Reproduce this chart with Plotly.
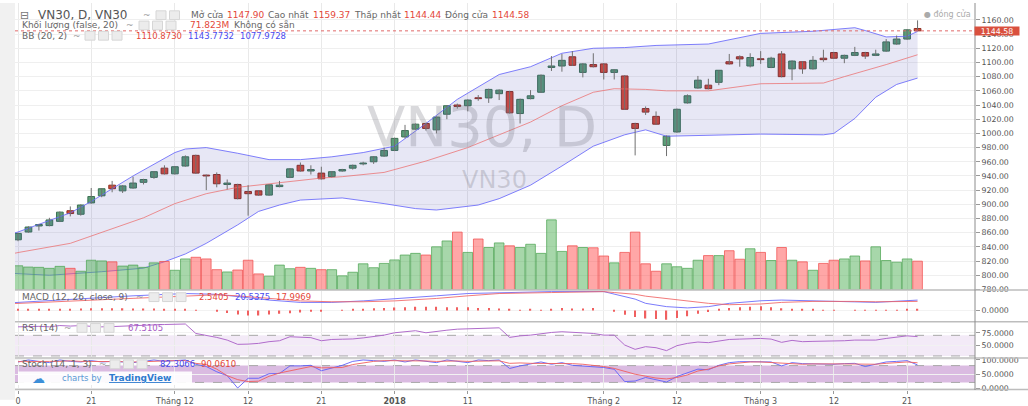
import plotly.graph_objects as go

# ---------------- data ----------------
n_candles = 87
candle_idx = list(range(n_candles))

open_ = [850, 861, 869.5, 870, 876, 891, 886, 902, 912, 927, 919, 923, 931, 938, 951, 943, 954, 969, 941, 942,
         928, 928, 918, 919, 913, 925, 938, 955, 947, 944, 939, 947, 951, 957, 960, 968, 976, 995, 1006, 1014,
         1005, 1027, 1040, 1039, 1050, 1050, 1056, 1059, 1028, 1049, 1058, 1093, 1095, 1108, 1086, 1097, 1098, 1086, 1081, 1014,
         1035, 1024, 983, 1002, 1043, 1064, 1068, 1072, 1101, 1108, 1095, 1105, 1093, 1112, 1091, 1101, 1091, 1106, 1114, 1106,
         1110, 1114, 1110, 1116, 1126, 1133, 1147.90]
high = [860, 869, 872.5, 881, 890, 897, 900, 923, 923, 933, 927, 939, 936, 947, 955, 954, 969, 970, 942, 945,
        935, 929, 927, 920, 928, 933, 951, 959, 955, 953, 947, 950, 956, 960, 968, 980, 994, 1012, 1014, 1015,
        1024, 1040, 1042, 1048, 1054, 1063, 1062, 1060, 1049, 1061, 1083, 1109, 1112, 1116, 1099, 1113, 1099, 1090.5, 1082, 1015,
        1038, 1031, 997, 1035, 1055, 1081, 1077, 1089, 1112, 1110, 1113, 1116, 1108, 1116, 1103, 1102, 1109, 1118, 1115, 1111,
        1122, 1115, 1118, 1133, 1138, 1147, 1159.37]
low = [848, 860, 863, 869, 875, 883, 884, 901, 910, 917, 916, 922, 928, 936, 942, 942, 953, 943, 920, 924,
       921, 907, 884, 912, 912, 924, 937, 946, 942, 935, 938, 946, 949, 955, 957, 967, 975, 993, 1005, 1004,
       1000, 1020, 1035, 1031, 1046, 1043, 1047, 1028, 1014, 1048, 1057, 1088, 1087, 1095, 1079, 1093, 1076, 1076, 1033, 969,
       1026, 1012, 968, 1001, 1042, 1063, 1062, 1068, 1097, 1094, 1093, 1098, 1092, 1079, 1075, 1084, 1090, 1101, 1105, 1099,
       1109, 1105, 1109, 1115, 1125, 1132, 1144.44]
close = [859, 868, 871.5, 878, 889, 887, 899, 911, 922, 922, 926, 930, 935, 946, 943, 953, 967, 944, 940, 929,
         930, 908, 915, 913, 927.5, 927, 950, 947, 949, 936, 946, 949, 955, 958, 967, 976, 993, 1004, 1013, 1007,
         1023, 1039, 1038, 1047, 1049, 1062, 1061, 1029, 1048, 1053, 1082, 1095, 1103, 1096, 1098, 1094, 1086, 1089.7, 1034, 1007,
         1030, 1013, 996, 1034, 1053, 1075, 1063, 1089, 1098, 1105, 1107, 1104, 1106, 1080, 1102, 1091, 1103, 1104, 1106, 1110,
         1114, 1109, 1112, 1129, 1133, 1146, 1144.58]
volume_m = [60.3, 57.1, 56.4, 53.9, 58.8, 53.9, 46.6, 74.2, 72.5, 70.1, 59.5, 62.0, 56.4, 67.6, 71.1, 49.0, 77.4, 81.6, 77.4, 50.5,
            44.8, 49.7, 74.2, 39.9, 34.3, 62.0, 52.9, 56.4, 53.9, 50.5, 50.5, 35.0, 44.1, 65.2, 55.4, 66.2, 75.0, 87.2, 91.4, 87.2,
            107.8, 122.5, 144.6, 93.8, 127.4, 106.1, 117.6, 110.3, 106.1, 114.2, 91.4, 175.4, 96.3, 110.3, 106.1, 105.4, 84.8, 67.6, 93.8, 144.6,
            65.2, 46.6, 65.2, 57.8, 53.9, 74.2, 85.8, 85.8, 98.0, 76.7, 102.9, 93.8, 73.5, 106.1, 74.2, 70.1, 49.0, 66.2, 74.2, 77.4,
            84.8, 72.5, 107.8, 73.5, 69.3, 77.4, 71.823]

bb_upper_idx = [-1, 0, 5, 7, 11, 13, 15, 16, 18, 21, 24, 27, 30, 33, 36, 39, 42, 46, 49, 52, 55, 58, 61, 66, 71, 76, 80, 81, 83, 85, 86]
bb_upper = [857, 861, 888, 904, 940, 957, 973, 978, 980, 972, 963, 963, 967, 973, 982, 1014, 1048, 1083, 1094, 1113, 1120, 1121, 1124, 1126, 1141, 1144, 1149, 1145, 1136, 1137, 1143.77]
bb_mid_idx = [-1, 0, 5, 8, 12, 15, 18, 21, 25, 29, 31, 35, 39, 43, 46, 49, 52, 55, 57, 60, 62, 66, 71, 77, 79, 83, 86]
bb_mid = [829, 832, 845, 860, 881, 901, 915, 924, 931, 937, 939, 945, 961, 980, 998, 1016, 1039, 1058, 1063, 1062, 1060, 1060, 1070, 1071, 1080, 1097, 1110.87]
bb_low_idx = [-1, 0, 3, 8, 12, 14, 16, 18, 21, 23, 25, 27, 31, 35, 38, 40, 44, 46, 49, 52, 55, 58, 60, 62, 66, 71, 77, 78, 80, 82, 84, 86]
bb_low = [803, 802, 800, 805, 810, 819, 830, 845, 871, 890, 899, 906, 909, 901, 894, 892, 899, 908, 927, 954, 982, 998, 1005, 996, 997, 999, 998, 1000, 1021, 1051, 1069, 1077.97]

macd_idx = [-1, 0, 11, 16, 19, 21, 24, 27, 30, 33, 36, 40, 43, 46, 51, 56, 57, 59, 60, 62, 64, 66, 68, 71, 73, 76, 80, 82, 86]
macd_line = [15, 16, 29, 33.5, 32, 27, 20.6, 16, 16, 19, 23.8, 29, 33.5, 35.4, 37.3, 37.3, 32, 22.5, 14.2, 7.7, 5.2, 7.7, 14.2, 19.2, 20.6, 19.2, 18, 16.1, 20.54]
macd_signal = [13.5, 14, 24, 29, 31, 29, 24.4, 19, 17.3, 17.3, 19, 23.8, 29, 33.5, 35.4, 37.3, 35.4, 32, 28.3, 23.8, 19.2, 14.2, 11.5, 12.9, 16, 18, 18, 17.3, 18.0]
macd_hist = [3, 3, 3, 3.5, 3.5, 3.5, 4, 4.5, 4.5, 4.5, 4.5, 4, 4, 4, 3.5, 3.5, 3,
             0.5, 0, -2, -5, -7.7, -9.6, -9.6, -7.7, -6.4, -5.1, -3.8, -2.5, -1, 0,
             1, 2, 3, 4.5, 5, 6, 6.5, 7.5, 7.5, 7.5, 6.5, 6.5, 6.5, 5, 5, 4, 3,
             1, 2, 1, 2, 5, 4, 4, 5, 0, -2, -8.3, -12.8, -15.4, -16.7, -18, -14.7, -11, -6.4, -3,
             3, 5, 6.4, 7.7, 8.3, 6.4, 4.5, 3, 2, 1.5, 1, 0.5, 0, -0.5, -0.5, 0.5, 0.5, 1, 1.5, 2.54]
rsi = [86.5, 87, 87.5, 86.5, 89, 88, 89, 87.5, 86.5, 87, 87.5, 88, 89.7, 90.3, 91, 91, 92,
       73.7, 70.4, 66, 60.8, 52.5, 53, 54.4, 57.7, 59.5, 67.3, 66, 65.5, 59.5, 62,
       62.5, 63, 65, 67.3, 70.4, 75, 77, 79, 75, 78, 80, 82, 82.7, 83.3, 84, 84.6, 66,
       69, 70.4, 73.7, 75.6, 77, 75.6, 75, 73.7, 70.4, 70.4, 51.2, 42.8, 48, 46, 40.3, 50, 54.4, 57, 55.8,
       59.5, 62, 62.7, 63.3, 64, 62.7, 56.4, 60.2, 57.7, 58.3, 58.3, 59, 59.5, 60.8, 61.4, 60.8, 64, 66.6, 69, 67.51]
stoch_k = [93, 100, 95, 90.6, 100, 95, 93, 97.7, 93, 95, 93, 90.6, 95, 100, 95, 97.7, 100,
           84.8, 76.7, 58, 44.1, 0, 34.8, 34.8, 51, 52, 79, 79, 81, 61.6, 72,
           81, 95, 100, 97.7, 95, 100, 93, 100, 95, 90.6, 100, 95, 90.6, 100, 97.7, 100, 69.7,
           79, 84.8, 93, 84.8, 90.6, 81, 79, 74.5, 73.2, 67, 23, 25, 37.6, 29.6, 21.5, 41.2, 55.7, 67.4, 65,
           81, 90.6, 94, 94, 94, 93, 79, 90.6, 87, 86, 84.8, 84.8, 87, 88, 76.7, 83.7, 93, 95, 97.7, 82.31]
stoch_d = [94, 95, 96, 95, 95, 97, 95, 95, 96, 94, 94, 93, 93, 95, 97, 97, 98,
           88, 83.7, 67.4, 44, 30, 23, 24.5, 41.8, 53.6, 61.6, 70, 76.7, 72, 72,
           73.2, 83.7, 90.6, 95, 97.7, 97.7, 96.5, 96.5, 96.5, 95, 96.5, 96.5, 95, 95, 97, 97, 88,
           89.5, 88, 88, 88, 87, 87, 84.8, 81, 76.7, 70, 58.6, 49.3, 42.4, 35.5, 32.5, 37.6, 46.7, 60.7, 67.4,
           79, 86, 90.6, 93, 93, 90.6, 88, 86, 84.8, 86, 87, 86, 86, 86, 83.7, 84.8, 88, 90.6, 93, 90.06]

date_tick_idx = [0, 7, 15, 22, 29, 36, 43, 56, 63, 71, 78, 85]
date_tick_text = ["0", "21", "Tháng 12", "12", "21", "<b>2018</b>", "11", "Tháng 2", "12", "Tháng 3", "12", "21"]
price_ticks = list(range(780, 1161, 20))

# ---------------- layout geometry ----------------
W, H = 1028, 406
ML, MR, MT, MB = 15, 53, 0, 10
PW, PH = W - ML - MR, H - MT - MB
FONT = "DejaVu Sans"


def xp(px):
    return (px - ML) / PW


def yp(py):
    return (PH - (py - MT)) / PH


GREEN_FILL, GREEN_LINE = "#5c9e78", "#3d7054"
RED_FILL, RED_LINE = "#d84a36", "#8c2f22"
up = [c >= o for o, c in zip(open_, close)]

fig = go.Figure()

# Bollinger band fill + lines
fig.add_trace(go.Scatter(x=bb_upper_idx, y=bb_upper, mode="lines", line=dict(color="rgba(105,105,250,0.85)", width=1),
                         hoverinfo="skip", showlegend=False))
fig.add_trace(go.Scatter(x=bb_low_idx, y=bb_low, mode="lines", line=dict(color="rgba(105,105,250,0.85)", width=1),
                         fill="tonexty", fillcolor="rgba(60,60,170,0.12)", hoverinfo="skip", showlegend=False))
fig.add_trace(go.Scatter(x=bb_mid_idx, y=bb_mid, mode="lines", line=dict(color="rgba(235,110,110,0.75)", width=1),
                         hoverinfo="skip", showlegend=False))

# wicks
wx, wy = [], []
for i, lo, hi in zip(candle_idx, low, high):
    wx += [i, i, None]
    wy += [lo, hi, None]
fig.add_trace(go.Scatter(x=wx, y=wy, mode="lines", line=dict(color="#707070", width=1),
                         hoverinfo="skip", showlegend=False))
# bodies
body_base = [min(o, c) for o, c in zip(open_, close)]
body_h = [max(abs(c - o), 1.2) for o, c in zip(open_, close)]
fig.add_trace(go.Bar(x=candle_idx, y=body_h, base=body_base, width=0.64,
                     marker=dict(color=[GREEN_FILL if u else RED_FILL for u in up],
                                 line=dict(color=[GREEN_LINE if u else RED_LINE for u in up], width=1)),
                     hoverinfo="skip", showlegend=False))

# volume
fig.add_trace(go.Bar(x=candle_idx, y=volume_m, yaxis="y2", width=0.92,
                     marker=dict(color=["rgba(80,175,85,0.5)" if u else "rgba(255,80,80,0.5)" for u in up],
                                 line=dict(color=["rgba(80,165,85,0.75)" if u else "rgba(240,80,80,0.75)" for u in up],
                                           width=1)),
                     hoverinfo="skip", showlegend=False))

# MACD
fig.add_trace(go.Bar(x=candle_idx, y=macd_hist, yaxis="y3", width=0.12, marker=dict(color="#f06060", line=dict(width=0)),
                     hoverinfo="skip", showlegend=False))
fig.add_trace(go.Scatter(x=macd_idx, y=macd_line, yaxis="y3", mode="lines", line=dict(color="rgba(100,100,250,0.85)", width=1),
                         hoverinfo="skip", showlegend=False))
fig.add_trace(go.Scatter(x=macd_idx, y=macd_signal, yaxis="y3", mode="lines", line=dict(color="rgba(240,100,100,0.85)", width=1),
                         hoverinfo="skip", showlegend=False))
# RSI
fig.add_trace(go.Scatter(x=candle_idx, y=rsi, yaxis="y4", mode="lines", line=dict(color="#b06ccb", width=1),
                         hoverinfo="skip", showlegend=False))
# Stoch
fig.add_trace(go.Scatter(x=candle_idx, y=stoch_k, yaxis="y5", mode="lines", line=dict(color="rgba(95,95,250,0.9)", width=1),
                         hoverinfo="skip", showlegend=False))
fig.add_trace(go.Scatter(x=candle_idx, y=stoch_d, yaxis="y5", mode="lines", line=dict(color="rgba(240,95,95,0.9)", width=1),
                         hoverinfo="skip", showlegend=False))

axis_font = dict(family=FONT, size=7.8, color="#555")
x_lo, x_hi = (ML - 18) / 10.46, (ML + PW - 18) / 10.46


def yax(domain, rng, tickvals, ticktext, grid="#efefef"):
    return dict(domain=domain, range=rng, side="right", anchor="x", tickvals=tickvals, ticktext=ticktext,
                showgrid=True, gridcolor=grid, gridwidth=1, zeroline=False, ticks="outside", ticklen=4,
                tickcolor="#999", tickfont=axis_font, showline=False, fixedrange=True)


fig.update_layout(
    width=W, height=H, autosize=False,
    margin=dict(l=ML, r=MR, t=MT, b=MB, pad=0),
    paper_bgcolor="#ffffff", plot_bgcolor="#ffffff",
    barmode="overlay", showlegend=False,
    font=dict(family=FONT, color="#555"),
    xaxis=dict(domain=[0, 1], range=[x_lo, x_hi], anchor="y5", tickmode="array", tickvals=date_tick_idx,
               ticktext=date_tick_text, showgrid=True, gridcolor="#e9e9e9", zeroline=False, ticks="outside",
               ticklen=3, tickcolor="#999", tickfont=dict(family=FONT, size=8, color="#555"), fixedrange=True),
    yaxis=yax([yp(293.5), 1], [779.45, 1183.84], price_ticks, [f"{v:.2f}" for v in price_ticks]),
    yaxis2=dict(overlaying="y", range=[0, 719], visible=False, fixedrange=True),
    yaxis3=yax([yp(325.5), yp(294.5)], [-20.77, 38.85], [0], ["0.0000"], grid="#f2f2f2"),
    yaxis4=yax([yp(363), yp(327)], [26.5, 94.8], [50, 75], ["50.0000", "75.0000"], grid="#f2f2f2"),
    yaxis5=yax([0, yp(364)], [-7, 104.5], [0, 50, 100], ["0.0000", "50.0000", "100.0000"], grid="#f2f2f2"),
)

shapes = []
# RSI band and stoch band
shapes.append(dict(type="rect", xref="paper", yref="y4", x0=0, x1=1, y0=30, y1=70, fillcolor="rgba(160,90,190,0.13)",
                   line=dict(width=0), layer="below"))
shapes.append(dict(type="rect", xref="paper", yref="y5", x0=0, x1=1, y0=20, y1=80, fillcolor="rgba(150,60,170,0.35)",
                   line=dict(width=0), layer="below"))
for yr, lv in [("y4", 70), ("y4", 30), ("y5", 80), ("y5", 20)]:
    shapes.append(dict(type="line", xref="paper", yref=yr, x0=0, x1=1, y0=lv, y1=lv,
                       line=dict(color="#a8a8a8", width=1, dash="dash"), layer="below"))
# price line
shapes.append(dict(type="line", xref="paper", yref="y", x0=0, x1=1, y0=close[-1], y1=close[-1],
                   line=dict(color="#e06a6a", width=1, dash="dot")))
# left strip
shapes.append(dict(type="rect", xref="paper", yref="paper", x0=xp(0), x1=xp(15), y0=yp(406), y1=yp(0),
                   fillcolor="#f1f1f1", line=dict(width=0), layer="below"))
# pane dividers
for py in [293.8, 326.2, 363.3, 395.6]:
    shapes.append(dict(type="line", xref="paper", yref="paper", x0=xp(15), x1=xp(1028), y0=yp(py), y1=yp(py),
                       line=dict(color="#bdbdbd", width=1.5)))
# right axis line
shapes.append(dict(type="line", xref="paper", yref="paper", x0=1, x1=1, y0=yp(396), y1=1,
                   line=dict(color="#8c8c8c", width=1)))
# TradingView logo box
shapes.append(dict(type="rect", xref="paper", yref="paper", x0=xp(18), x1=xp(192), y0=yp(391), y1=yp(377),
                   fillcolor="rgba(255,255,255,0.92)", line=dict(width=0)))


def icons(x0, py, n):
    for k in range(n):
        shapes.append(dict(type="rect", xref="paper", yref="paper", x0=xp(x0 + k * 13.5), x1=xp(x0 + k * 13.5 + 10),
                           y0=yp(py + 4.5), y1=yp(py - 4.5), fillcolor="#ececec", line=dict(color="#d6d6d6", width=1)))


icons(156, 12.5, 2)
icons(139, 23, 3)
icons(85, 33.5, 3)
icons(149, 301, 3)
icons(77, 332.5, 3)
icons(110, 369.7, 3)

annotations = []


def txt(px, py, s, color="#666", size=9, anchor="left", **kw):
    annotations.append(dict(xref="paper", yref="paper", x=xp(px), y=yp(py), text=s, showarrow=False,
                            xanchor=anchor, yanchor="middle", font=dict(family=FONT, size=size, color=color), **kw))


RED, BLUE, PURPLE = "#e4473a", "#4a4af0", "#a65cc4"
# watermark
txt(482, 126, "VN30, D", color="rgba(120,120,130,0.28)", size=56, anchor="center")
txt(494, 181, "VN30", color="rgba(120,120,130,0.28)", size=24, anchor="center")
# main legend
txt(18, 12.5, "⊟", color="#777", size=11)
txt(36, 12.5, "VN30, D, VN30", color="#555", size=12)
txt(141, 12.5, "~", color="#999", size=9)
txt(189, 12.5, "Mở cửa", size=9)
txt(225, 12.5, "1147.90", color=RED, size=9)
txt(266, 12.5, "Cao nhất", size=9)
txt(311, 12.5, "1159.37", color=RED, size=9)
txt(352, 12.5, "Thấp nhất", size=9)
txt(402, 12.5, "1144.44", color=RED, size=9)
txt(443, 12.5, "Đóng cửa", size=9)
txt(490, 12.5, "1144.58", color=RED, size=9)
txt(20, 23, "Khối lượng (false, 20)", size=9)
txt(124, 23, "~", color="#999", size=9)
txt(188, 23, "71.823M", color=RED, size=9)
txt(232, 23, "Không có sẵn", size=9)
txt(20, 33.5, "BB (20, 2)", size=9)
txt(71, 33.5, "~", color="#999", size=9)
txt(134, 33.5, "1110.8730", color=RED, size=8.5)
txt(186, 33.5, "1143.7732", color=BLUE, size=8.5)
txt(238, 33.5, "1077.9728", color=BLUE, size=8.5)
# study legends
txt(20, 301, "MACD (12, 26, close, 9)", size=9)
txt(134, 301, "~", color="#999", size=9)
txt(197, 301, "2.5405", color=RED, size=8.5)
txt(233, 301, "20.5375", color=BLUE, size=8.5)
txt(274, 301, "17.9969", color=RED, size=8.5)
txt(20, 332.5, "RSI (14)", size=9)
txt(62, 332.5, "~", color="#999", size=9)
txt(126, 332.5, "67.5105", color=PURPLE, size=8.5)
txt(20, 369.7, "Stoch (14, 1, 3)", size=9)
txt(97, 369.7, "~", color="#999", size=9)
txt(158, 369.7, "82.3066", color=BLUE, size=8.5)
txt(199, 369.7, "90.0610", color=RED, size=8.5)
# right top
txt(922, 11.7, "● đóng cửa", color="#aaa", size=8)
# price label
annotations.append(dict(xref="paper", yref="y", x=xp(974), y=close[-1], text=f"{close[-1]:.2f}", showarrow=False,
                        xanchor="left", yanchor="middle", bgcolor="#d9503e", width=44, height=8, borderpad=0,
                        font=dict(family=FONT, size=7.8, color="#ffffff")))
# TradingView logo
txt(30, 384, "☁", color="#3d8fd8", size=13)
txt(60, 384, "charts by", color="#5b9bd5", size=8.5)
txt(107, 384, "<b><u>TradingView</u></b>", color="#2e7bcf", size=9)

fig.update_layout(shapes=shapes, annotations=annotations)
fig.write_html("out.html")
